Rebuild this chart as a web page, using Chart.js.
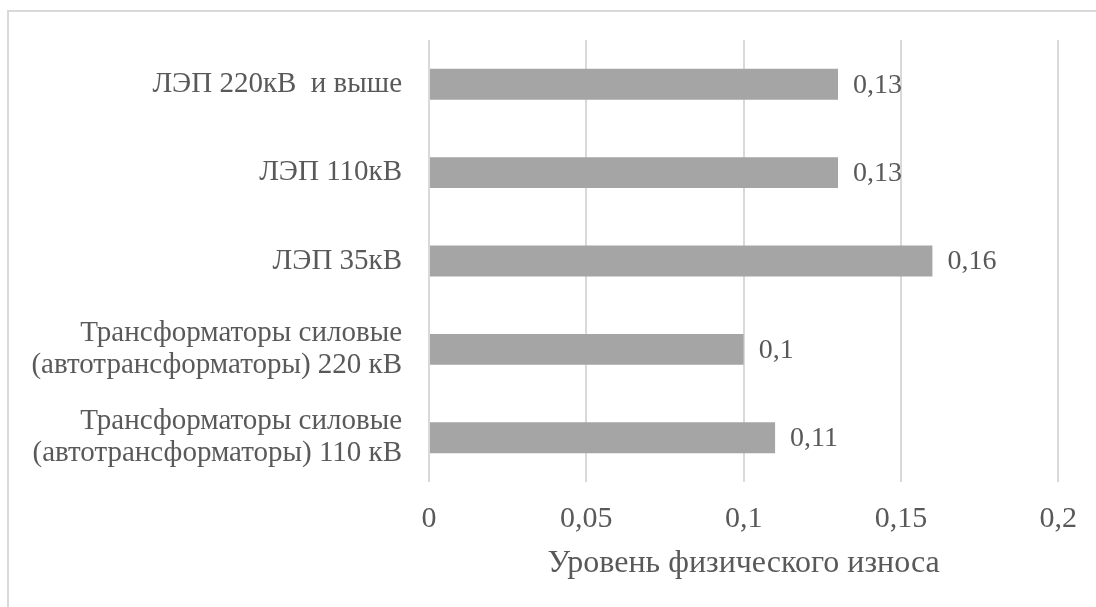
<!DOCTYPE html>
<html>
<head>
<meta charset="utf-8">
<script src="https://cdn.jsdelivr.net/npm/chart.js@4/dist/chart.umd.min.js"></script>
<style>
  html, body { margin: 0; padding: 0; background: #fff; overflow: hidden; }
  #ramka { position: absolute; left: 7px; top: 10px; width: 1200px; height: 700px;
           border-left: 2px solid #d9d9d9; border-top: 2px solid #d9d9d9; }
  #holst { position: absolute; left: 0; top: 0; }
</style>
</head>
<body>
<div id="ramka"></div>
<canvas id="holst" width="1096" height="607"></canvas>
<script>
const kategorii = [
    'ЛЭП 220кВ  и выше',
    'ЛЭП 110кВ',
    'ЛЭП 35кВ',
    ['Трансформаторы силовые', '(автотрансформаторы) 220 кВ'],
    ['Трансформаторы силовые', '(автотрансформаторы) 110 кВ']
];
const iznos = [0.13, 0.13, 0.16, 0.1, 0.11];
const deleniya = [0, 0.05, 0.1, 0.15, 0.2];
const nazvanieOsi = 'Уровень физического износа';

const shrift = '"Liberation Serif", "Times New Roman", serif';
const cvetTeksta = '#595959';

function sZapyatoy(v) {
    return String(Math.round(v * 100) / 100).replace('.', ',');
}

// подписи значений справа от столбиков
const podpisi = {
    id: 'podpisi',
    afterDatasetsDraw(chart) {
        const ctx = chart.ctx;
        const meta = chart.getDatasetMeta(0);
        ctx.save();
        ctx.font = '28px ' + shrift;
        ctx.fillStyle = cvetTeksta;
        ctx.textAlign = 'left';
        ctx.textBaseline = 'middle';
        meta.data.forEach((bar, i) => {
            ctx.fillText(sZapyatoy(iznos[i]), bar.x + 15, bar.y + 1);
        });
        ctx.restore();
    }
};

const ctx = document.getElementById('holst').getContext('2d');

new Chart(ctx, {
    type: 'bar',
    data: {
        labels: kategorii,
        datasets: [{
            data: iznos,
            backgroundColor: '#a5a5a5',
            borderWidth: 0,
            categoryPercentage: 1,
            barPercentage: 0.35
        }]
    },
    options: {
        indexAxis: 'y',
        responsive: false,
        animation: false,
        layout: { padding: { top: 40, right: 35, left: 0, bottom: 0 } },
        plugins: {
            legend: { display: false },
            tooltip: { enabled: false }
        },
        scales: {
            x: {
                min: deleniya[0],
                max: deleniya[deleniya.length - 1],
                afterBuildTicks: scale => {
                    scale.ticks = deleniya.map(v => ({ value: v }));
                },
                afterFit: scale => { scale.height = 125; },
                grid: { color: '#d9d9d9', lineWidth: 2, drawTicks: false },
                border: { display: false },
                ticks: {
                    padding: 19,
                    color: cvetTeksta,
                    font: { family: shrift, size: 30 },
                    callback: v => sZapyatoy(v)
                },
                title: {
                    display: true,
                    text: nazvanieOsi,
                    color: cvetTeksta,
                    font: { family: shrift, size: 32 },
                    padding: { top: 10, bottom: 24 }
                }
            },
            y: {
                afterFit: scale => {
                    scale.width = 429;
                    scale.paddingTop = 0;
                    scale.paddingBottom = 0;
                },
                grid: { display: false, drawTicks: false },
                border: { display: false },
                ticks: {
                    padding: 27,
                    color: cvetTeksta,
                    font: { family: shrift, size: 29, lineHeight: 1.1 }
                }
            }
        }
    },
    plugins: [podpisi]
});
</script>
</body>
</html>
